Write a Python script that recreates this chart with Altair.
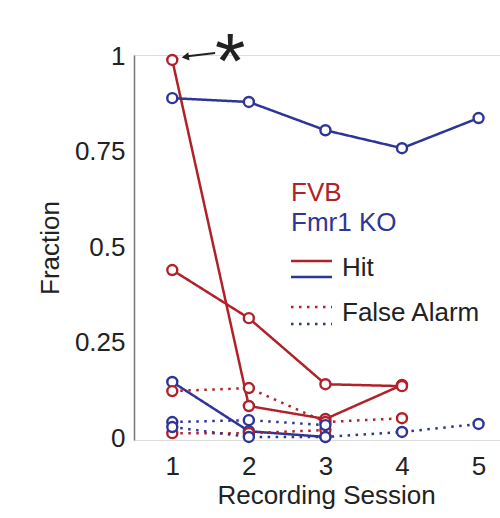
import altair as alt
import pandas as pd

# ---- data ----
sessions = [1, 2, 3, 4, 5]
fvb_hit_a = [0.99, 0.084, 0.05, 0.139]
fvb_hit_b = [0.44, 0.314, 0.141, 0.136]
fvb_fa_a = [0.123, 0.131, 0.042, 0.052]
fvb_fa_b = [0.013, 0.013, 0.021]
ko_hit_a = [0.89, 0.88, 0.806, 0.759, 0.838]
ko_hit_b = [0.147, 0.018, 0.003]
ko_fa_a = [0.042, 0.047, 0.034]
ko_fa_b = [0.029, 0.003, 0.003, 0.016, 0.037]

RED = "#B0222A"
BLUE = "#2E3596"
FONT = "Liberation Sans"
FS = 26

series = [
    ("FVB", "Hit", "fvb_a", fvb_hit_a),
    ("FVB", "Hit", "fvb_b", fvb_hit_b),
    ("Fmr1 KO", "Hit", "ko_a", ko_hit_a),
    ("Fmr1 KO", "Hit", "ko_b", ko_hit_b),
    ("FVB", "False Alarm", "fvb_a", fvb_fa_a),
    ("FVB", "False Alarm", "fvb_b", fvb_fa_b),
    ("Fmr1 KO", "False Alarm", "ko_a", ko_fa_a),
    ("Fmr1 KO", "False Alarm", "ko_b", ko_fa_b),
]
rows = []
for strain, measure, animal, vals in series:
    for s, v in zip(sessions, vals):
        rows.append({"session": s, "value": v, "strain": strain,
                     "measure": measure, "id": f"{strain}-{measure}-{animal}"})
df = pd.DataFrame(rows)

xscale = alt.Scale(domain=[0.5, 5.28], nice=False, zero=False)
yscale = alt.Scale(domain=[-0.005, 1.003], nice=False, zero=False)
color = alt.Color("strain:N", scale=alt.Scale(domain=["FVB", "Fmr1 KO"], range=[RED, BLUE]), legend=None)
dash = alt.StrokeDash("measure:N", scale=alt.Scale(domain=["Hit", "False Alarm"], range=[[1, 0], [2.5, 5.5]]), legend=None)

xaxis = alt.Axis(values=sessions, format="d", ticks=False, domain=False, grid=False,
                 labelFontSize=FS, labelFont=FONT, labelColor="#222", labelPadding=13,
                 title="Recording Session", titleFontSize=FS, titleFont=FONT,
                 titleFontWeight="normal", titleColor="#222", titlePadding=3, titleX=192)
yaxis = alt.Axis(values=[0, 0.25, 0.5, 0.75, 1], ticks=False, grid=False,
                 domainColor="#777", domainWidth=1.5,
                 labelExpr="datum.value == 0 ? '0' : datum.value == 1 ? '1' : format(datum.value, '.4~g')",
                 labelFontSize=FS, labelFont=FONT, labelColor="#222", labelPadding=9,
                 title="Fraction", titleFontSize=FS, titleFont=FONT,
                 titleFontWeight="normal", titleColor="#222", titlePadding=11)

base = alt.Chart(df)
lines = base.mark_line(strokeWidth=2.5).encode(
    x=alt.X("session:Q", scale=xscale, axis=xaxis),
    y=alt.Y("value:Q", scale=yscale, axis=yaxis),
    color=color, strokeDash=dash, detail="id:N", order="session:Q")
points = base.mark_point(filled=False, fill="white", fillOpacity=1, size=100, strokeWidth=2.4, opacity=1).encode(
    x="session:Q", y="value:Q", color=color)

# ---- annotation: asterisk with arrow ----
arrow_x = [1.559, 1.2]
arrow_y = [1.008, 0.9995]
arr = pd.DataFrame({"x": [arrow_x[0]], "y": [arrow_y[0]], "x2": [arrow_x[1]], "y2": [arrow_y[1]]})
arrow_line = alt.Chart(arr).mark_rule(color="#222", strokeWidth=2).encode(
    x=alt.X("x:Q", scale=xscale), y=alt.Y("y:Q", scale=yscale), x2="x2:Q", y2="y2:Q")
head = pd.DataFrame({"x": [1.17], "y": [0.998]})
arrow_head = alt.Chart(head).mark_point(shape="triangle-left", filled=True, color="#222", size=70, angle=352, opacity=1).encode(
    x=alt.X("x:Q", scale=xscale), y=alt.Y("y:Q", scale=yscale))
star = pd.DataFrame({"x": [1.755], "y": [1.024], "t": ["*"]})
asterisk = alt.Chart(star).mark_text(fontSize=78, font=FONT, color="#222", baseline="middle", dy=18).encode(
    x=alt.X("x:Q", scale=xscale), y=alt.Y("y:Q", scale=yscale), text="t:N")

# ---- legend (custom) ----
leg_text = pd.DataFrame({
    "t": ["FVB", "Fmr1 KO", "Hit", "False Alarm"],
    "px": [157, 157, 208, 208],
    "py": [138, 168, 213, 258],
    "c": [RED, BLUE, "#222", "#222"],
})
legend_texts = alt.Chart(leg_text).mark_text(fontSize=FS, font=FONT, align="left", baseline="middle").encode(
    x=alt.X("px:Q", scale=None), y=alt.Y("py:Q", scale=None), text="t:N",
    color=alt.Color("c:N", scale=None))
leg_lines = pd.DataFrame({
    "x1": [157, 157, 157, 157], "x2": [198, 198, 198, 198],
    "y": [206, 222, 252, 269],
    "strain": ["FVB", "Fmr1 KO", "FVB", "Fmr1 KO"],
    "measure": ["Hit", "Hit", "False Alarm", "False Alarm"],
})
legend_lines = alt.Chart(leg_lines).mark_rule(strokeWidth=2.5).encode(
    x=alt.X("x1:Q", scale=None), x2="x2:Q", y=alt.Y("y:Q", scale=None),
    color=color, strokeDash=dash)

chart = alt.layer(lines, points, arrow_line, arrow_head, asterisk, legend_texts, legend_lines).properties(
    width=366, height=385,
    autosize=alt.AutoSizeParams(type="none"),
    padding={"left": 134, "top": 55, "right": 0, "bottom": 78},
).configure_view(stroke=None).configure(background="white")

chart.save("out.html", embed_options={"renderer": "svg", "actions": False})
